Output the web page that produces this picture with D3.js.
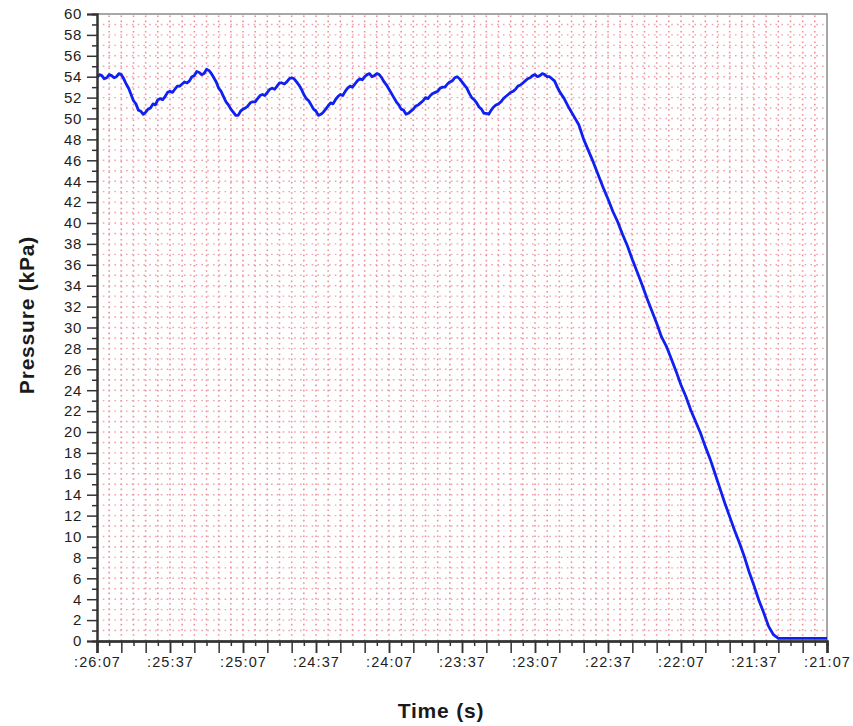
<!DOCTYPE html>
<html>
<head>
<meta charset="utf-8">
<script src="https://cdn.jsdelivr.net/npm/d3@7"></script>
<style>
  html, body { margin: 0; padding: 0; background: #fff; }
  svg { display: block; }
  text { font-family: Arial, "Liberation Sans", sans-serif; }
</style>
</head>
<body>
<svg id="chart" width="853" height="726"></svg>
<script>
// Logged tank pressure (kPa): 1 s samples through the cycling phase, 2 s samples during the vent-down
const elapsed = [
  0, 1, 2, 3, 4, 5, 6, 7, 8, 9, 10, 11, 12, 13, 14, 15, 16, 17, 18, 19,
  20, 21, 22, 23, 24, 25, 26, 27, 28, 29, 30, 31, 32, 33, 34, 35, 36, 37, 38, 39,
  40, 41, 42, 43, 44, 45, 46, 47, 48, 49, 50, 51, 52, 53, 54, 55, 56, 57, 58, 59,
  60, 61, 62, 63, 64, 65, 66, 67, 68, 69, 70, 71, 72, 73, 74, 75, 76, 77, 78, 79,
  80, 81, 82, 83, 84, 85, 86, 87, 88, 89, 90, 91, 92, 93, 94, 95, 96, 97, 98, 99,
  100, 101, 102, 103, 104, 105, 106, 107, 108, 109, 110, 111, 112, 113, 114, 115, 116, 117, 118, 119,
  120, 121, 122, 123, 124, 125, 126, 127, 128, 129, 130, 131, 132, 133, 134, 135, 136, 137, 138, 139,
  140, 141, 142, 143, 144, 145, 146, 147, 148, 149, 150, 151, 152, 153, 154, 155, 156, 157, 158, 159,
  160, 161, 162, 163, 164, 165, 166, 167, 168, 169, 170, 171, 172, 173, 174, 175, 176, 177, 178, 179,
  180, 181, 182, 183, 184, 185, 186,
  188, 190, 192, 194, 196, 198,
  200, 202, 204, 206, 208, 210, 212, 214, 216, 218, 220, 222, 224, 226, 228, 230, 232, 234, 236, 238,
  240, 242, 244, 246, 248, 250, 252, 254, 256, 258, 260, 262, 264, 266, 268, 270, 272, 274, 276, 278,
  280, 282, 284, 286, 288, 290, 292, 294, 296, 298, 300
];
const pressureKPa = [
  53.9, 54.2, 54.1, 53.8, 53.9, 54.2, 54.1, 53.9, 54.0, 54.3, 54.2, 53.8, 53.3, 52.9, 52.3, 51.7, 51.4, 50.8, 50.7, 50.4,
  50.6, 50.9, 51.0, 51.4, 51.3, 51.8, 51.9, 51.8, 52.1, 52.5, 52.6, 52.5, 52.8, 53.1, 53.1, 53.3, 53.5, 53.4, 53.6, 54.0,
  54.1, 54.5, 54.4, 54.2, 54.3, 54.7, 54.6, 54.3, 53.9, 53.5, 52.9, 52.6, 52.1, 51.6, 51.3, 50.9, 50.6, 50.3, 50.3, 50.7,
  50.9, 51.0, 51.2, 51.5, 51.6, 51.6, 51.9, 52.2, 52.3, 52.2, 52.5, 52.8, 52.9, 52.8, 53.1, 53.4, 53.4, 53.3, 53.5, 53.8,
  53.9, 53.8, 53.5, 53.2, 52.8, 52.3, 51.9, 51.7, 51.3, 50.9, 50.7, 50.3, 50.4, 50.6, 50.9, 51.2, 51.5, 51.4, 51.8, 52.1,
  52.3, 52.2, 52.6, 52.9, 53.1, 53.0, 53.3, 53.6, 53.8, 53.7, 54.0, 54.2, 54.3, 54.0, 54.1, 54.3, 54.2, 53.9, 53.5, 53.2,
  52.8, 52.4, 52.0, 51.6, 51.3, 50.9, 50.8, 50.4, 50.5, 50.7, 50.9, 51.2, 51.3, 51.5, 51.7, 52.0, 51.9, 52.2, 52.4, 52.5,
  52.6, 52.9, 53.0, 53.0, 53.3, 53.5, 53.6, 53.9, 54.0, 53.8, 53.5, 53.2, 52.9, 52.4, 52.0, 51.8, 51.5, 51.1, 50.9, 50.5,
  50.5, 50.4, 50.8, 51.1, 51.3, 51.4, 51.6, 51.9, 52.1, 52.3, 52.5, 52.6, 52.8, 53.1, 53.2, 53.4, 53.6, 53.8, 53.9, 54.1,
  54.2, 54.0, 54.1, 54.3, 54.2, 54.0, 54.0,
  53.6, 52.6, 51.9, 51.0, 50.2, 49.4,
  48.0, 46.9, 45.8, 44.6, 43.4, 42.3, 41.1, 40.1, 38.9, 37.8, 36.5, 35.3, 34.1, 32.8, 31.6, 30.4, 29.1, 28.2, 27.0, 25.8,
  24.5, 23.4, 22.1, 21.0, 19.9, 18.6, 17.4, 16.0, 14.6, 13.2, 11.9, 10.6, 9.4, 8.1, 6.6, 5.3, 3.9, 2.7, 1.4, 0.6,
  0.25, 0.25, 0.25, 0.25, 0.25, 0.25, 0.25, 0.25, 0.25, 0.25, 0.25
];

// Clock labels every 30 s
const timeTickSeconds = [0, 30, 60, 90, 120, 150, 180, 210, 240, 270, 300];
const timeTickLabels = [":26:07", ":25:37", ":25:07", ":24:37", ":24:07", ":23:37", ":23:07", ":22:37", ":22:07", ":21:37", ":21:07"];
const pressureDomain = [0, 60];
const timeDomain = [0, 300];

const svg = d3.select("#chart");
const margin = { left: 97, right: 26, top: 14, bottom: 85 };
const W = 853, H = 726;
const x = d3.scaleLinear().domain(timeDomain).range([margin.left, W - margin.right]);
const y = d3.scaleLinear().domain(pressureDomain).range([H - margin.bottom, margin.top]);

// Dotted pink grid: every 5 s and every 1 kPa
const grid = svg.append("g").attr("class", "grid");
grid.selectAll("line.v")
  .data(d3.range(timeDomain[0] + 5, timeDomain[1], 5))
  .join("line")
  .attr("x1", d => x(d)).attr("x2", d => x(d))
  .attr("y1", y(pressureDomain[0])).attr("y2", y(pressureDomain[1]))
  .attr("stroke", "#ee8f9a").attr("stroke-width", 1.6)
  .attr("stroke-dasharray", "1.6,3.6");
grid.selectAll("line.h")
  .data(d3.range(pressureDomain[0] + 1, pressureDomain[1], 1))
  .join("line")
  .attr("x1", x(timeDomain[0])).attr("x2", x(timeDomain[1]))
  .attr("y1", d => y(d)).attr("y2", d => y(d))
  .attr("stroke", "#f0a3ab").attr("stroke-width", 1.4)
  .attr("stroke-dasharray", "1.6,4.2");

// Frame on top and right
svg.append("path")
  .attr("d", `M${x(timeDomain[0])},${y(pressureDomain[1])}H${x(timeDomain[1])}V${y(pressureDomain[0])}`)
  .attr("fill", "none").attr("stroke", "#8a8a8a").attr("stroke-width", 1.5);

// Pressure trace
const pts = elapsed.map((t, i) => [t, pressureKPa[i]]);
svg.append("path")
  .datum(pts)
  .attr("fill", "none")
  .attr("stroke", "#1020f0")
  .attr("stroke-width", 2.8)
  .attr("stroke-linejoin", "round")
  .attr("d", d3.line().x(d => x(d[0])).y(d => y(d[1])));

// Y axis: major ticks every 2 kPa (labelled), minor every 1 kPa
const yMinor = svg.append("g").attr("transform", `translate(${margin.left},0)`)
  .call(d3.axisLeft(y).tickValues(d3.range(1, 60, 2)).tickSize(5).tickFormat(""));
const yAxis = svg.append("g").attr("transform", `translate(${margin.left},0)`)
  .call(d3.axisLeft(y).tickValues(d3.range(0, 61, 2)).tickSize(10).tickPadding(5));

// X axis: ticks every 5 s, longer every 10 s, labels every 30 s
const xBottom = y(pressureDomain[0]);
const xMinor = svg.append("g").attr("transform", `translate(0,${xBottom})`)
  .call(d3.axisBottom(x).tickValues(d3.range(5, 300, 10)).tickSize(5).tickFormat(""));
const xMid = svg.append("g").attr("transform", `translate(0,${xBottom})`)
  .call(d3.axisBottom(x).tickValues(d3.range(0, 301, 10)).tickSize(12).tickFormat(""));
const xAxis = svg.append("g").attr("transform", `translate(0,${xBottom})`)
  .call(d3.axisBottom(x).tickValues(timeTickSeconds).tickSize(12).tickPadding(4)
    .tickFormat((d, i) => timeTickLabels[i]));

[yMinor, yAxis, xMinor, xMid, xAxis].forEach(g => {
  g.select(".domain").attr("stroke", "#333").attr("stroke-width", 2);
  g.selectAll(".tick line").attr("stroke", "#333").attr("stroke-width", 1.5);
});
yAxis.selectAll(".tick text").attr("font-size", 15).attr("fill", "#1e1e1e")
  .attr("letter-spacing", "0.6px");
xAxis.selectAll(".tick text").attr("font-size", 14.5).attr("fill", "#1e1e1e")
  .attr("letter-spacing", "1.1px");

// Axis titles
svg.append("text")
  .attr("x", (x(timeDomain[0]) + x(timeDomain[1])) / 2 - 21)
  .attr("y", 718)
  .attr("text-anchor", "middle")
  .attr("font-size", 21).attr("font-weight", "bold").attr("fill", "#1a1a1a")
  .attr("letter-spacing", "0.8px")
  .text("Time (s)");
svg.append("text")
  .attr("transform", `translate(34,315) rotate(-90)`)
  .attr("text-anchor", "middle")
  .attr("font-size", 21).attr("font-weight", "bold").attr("fill", "#1a1a1a")
  .attr("letter-spacing", "0.8px")
  .text("Pressure (kPa)");
</script>
</body>
</html>
